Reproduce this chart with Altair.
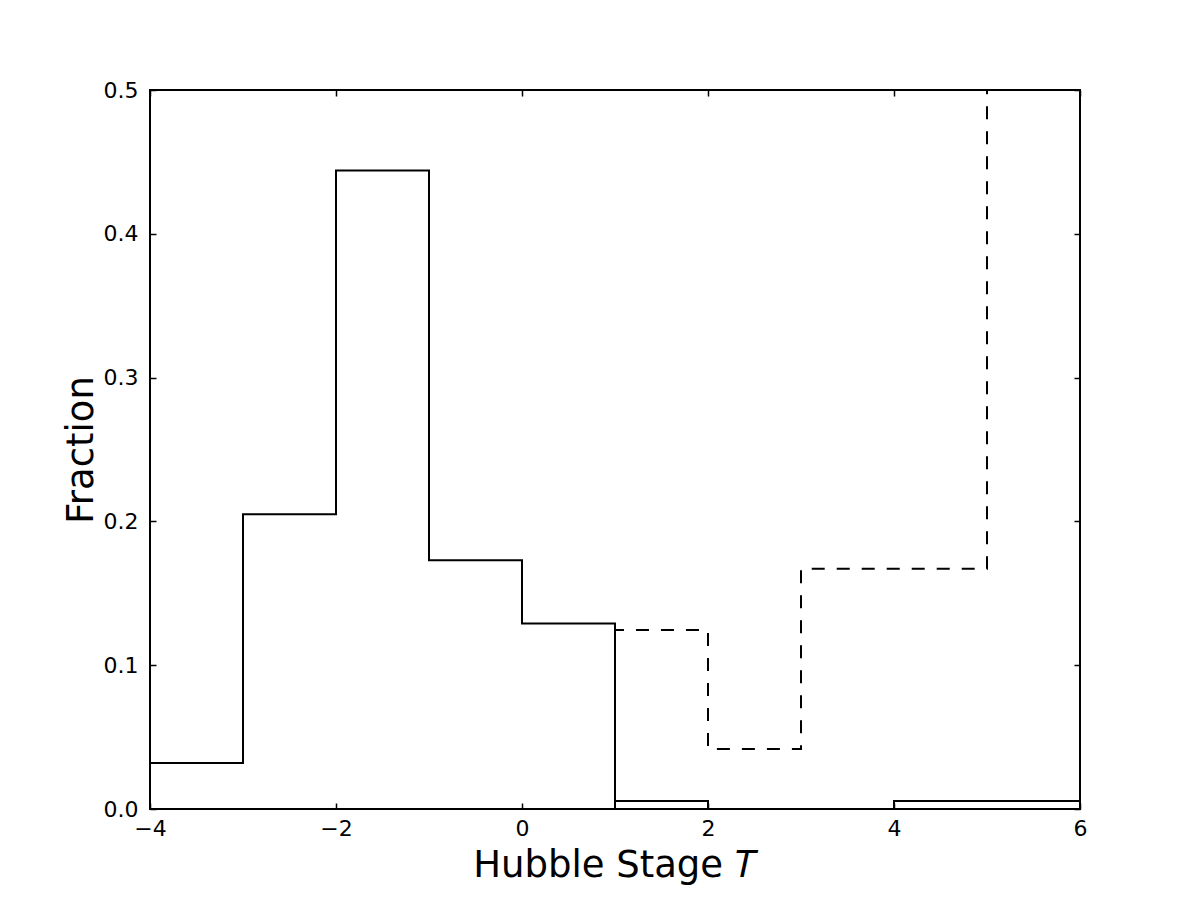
import altair as alt
import pandas as pd

# Histogram bin edges and fractions
solid_edges = [-4, -3, -2, -1, 0, 1, 2, 3, 4, 5, 6]
solid_vals = [0.032, 0.205, 0.444, 0.173, 0.129, 0.0056, 0.0, 0.0, 0.0056, 0.0056]
dashed_edges = [1, 2, 3, 4, 5, 6]
dashed_vals = [0.1245, 0.0417, 0.167, 0.167, 0.5]
x_ticks = [-4, -2, 0, 2, 4, 6]
y_ticks = [0.0, 0.1, 0.2, 0.3, 0.4, 0.5]


def step_vertices(edges, vals):
    xs, ys = [edges[0]], [0.0]
    for i, v in enumerate(vals):
        xs += [edges[i], edges[i + 1]]
        ys += [v, v]
    xs.append(edges[-1])
    ys.append(0.0)
    return pd.DataFrame({"x": xs, "y": ys, "order": list(range(len(xs)))})


df_solid = step_vertices(solid_edges, solid_vals)
df_dashed = step_vertices(dashed_edges, dashed_vals)

FONT = "DejaVu Sans"
TICK = 6

xs = alt.Scale(domain=[-4, 6], nice=False, zero=False)
ys = alt.Scale(domain=[0, 0.5], nice=False)

x_bottom = alt.Axis(
    orient="bottom", values=x_ticks, offset=-TICK, tickSize=TICK, tickWidth=1.5,
    tickColor="black", domain=False, grid=False, labelPadding=9,
    labelFlush=False, labelOverlap=False,
    labelFont=FONT, labelFontSize=22, labelColor="black",
    labelExpr="replace(datum.label, '-', '\u2212')",
    title="Hubble Stage \U0001D447", titleFont=FONT, titleFontSize=37,
    titleFontWeight="normal", titleColor="black", titlePadding=8,
)
y_left = alt.Axis(
    orient="left", values=y_ticks, offset=-TICK, tickSize=TICK, tickWidth=1.5,
    tickColor="black", domain=False, grid=False, labelPadding=12,
    labelFlush=False, labelOverlap=False,
    labelFont=FONT, labelFontSize=22, labelColor="black", format=".1f",
    title="Fraction", titleFont=FONT, titleFontSize=37,
    titleFontWeight="normal", titleColor="black", titlePadding=3,
)
x_top = alt.Axis(
    orient="top", values=x_ticks, offset=-TICK, tickSize=TICK, tickWidth=1.5,
    tickColor="black", domain=False, grid=False, labels=False, title=None,
)
y_right = alt.Axis(
    orient="right", values=y_ticks, offset=-TICK, tickSize=TICK, tickWidth=1.5,
    tickColor="black", domain=False, grid=False, labels=False, title=None,
)

solid = alt.Chart(df_solid).mark_line(
    color="black", strokeWidth=2, clip=True, strokeJoin="miter"
).encode(
    x=alt.X("x:Q", scale=xs, axis=x_bottom),
    y=alt.Y("y:Q", scale=ys, axis=y_left),
    order="order:Q",
)

dashed = alt.Chart(df_dashed).mark_line(
    color="black", strokeWidth=2, clip=True, strokeDash=[13, 12], strokeJoin="miter"
).encode(
    x=alt.X("x:Q", scale=xs, axis=x_top),
    y=alt.Y("y:Q", scale=ys, axis=y_right),
    order="order:Q",
)

chart = (
    alt.layer(solid, dashed)
    .resolve_axis(x="independent", y="independent")
    .properties(
        width=930, height=719,
        autosize=alt.AutoSizeParams(type="none"),
        padding={"left": 142, "top": 82, "right": 100, "bottom": 100},
        background="white",
    )
    .configure_view(stroke="black", strokeWidth=2)
)

chart.save("out.html", embed_options={"renderer": "svg", "actions": False})
